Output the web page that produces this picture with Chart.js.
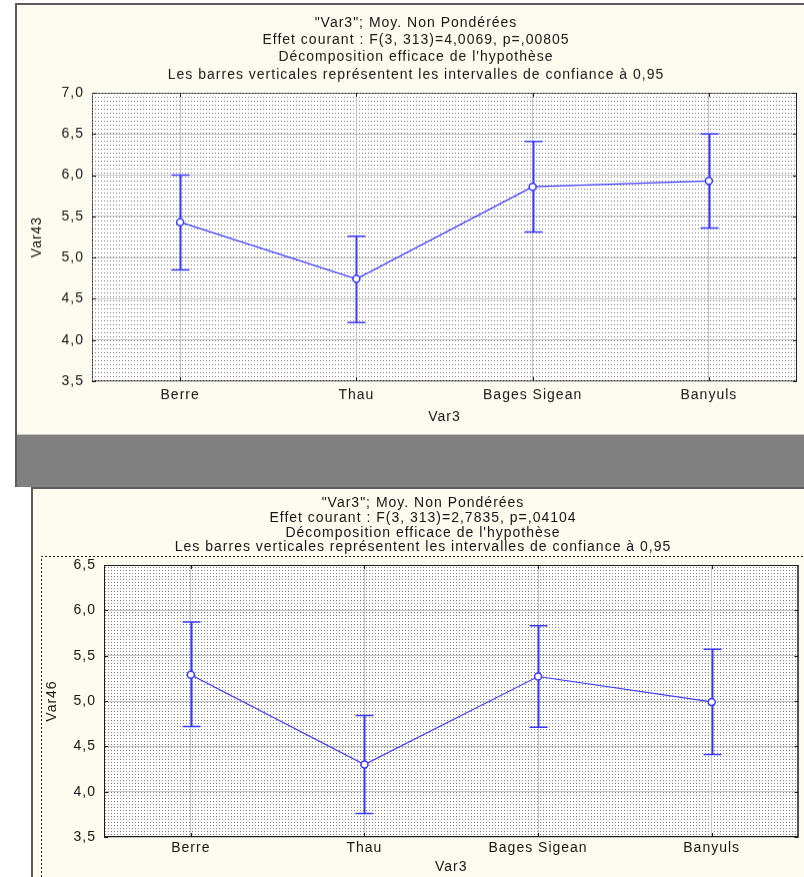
<!DOCTYPE html>
<html lang="fr">
<head>
<meta charset="UTF-8">
<title>Var43 / Var46 par Var3</title>
<script src="https://cdn.jsdelivr.net/npm/chart.js"></script>
<style>
  body { margin: 0; background: #fff; width: 804px; height: 877px; overflow: hidden; position: relative; }
  .win1 { position: absolute; left: 15px; top: 3px; width: 789px; height: 484px; background: #808080;
          border-left: 2px solid #5c5c5c; border-top: 2px solid #5c5c5c; box-sizing: border-box; }
  .win2 { position: absolute; left: 31px; top: 487px; width: 773px; height: 390px; background: #fdfaf0;
          border-left: 2px solid #5c5c5c; border-top: 2px solid #5c5c5c; box-sizing: border-box; }
  canvas { position: absolute; background: #fdfaf0; }
  #chartTop { left: 17px; top: 5px; border-bottom: 1px solid #c8c8c8; }
  #chartBottom { left: 33px; top: 489px; }
</style>
</head>
<body>

<div class="win1"></div>
<div class="win2"></div>
<canvas id="chartTop" width="787" height="430"></canvas>
<canvas id="chartBottom" width="771" height="388"></canvas>

<script>
const categories = ["Berre", "Thau", "Bages Sigean", "Banyuls"];

// Var43 : moyennes et intervalles de confiance à 0,95
const var43Mean  = [5.43, 4.74, 5.86, 5.93];
const var43Upper = [6.00, 5.26, 6.41, 6.50];
const var43Lower = [4.85, 4.21, 5.31, 5.36];

// Var46
const var46Mean  = [5.29, 4.30, 5.27, 4.99];
const var46Upper = [5.87, 4.84, 5.83, 5.57];
const var46Lower = [4.72, 3.76, 4.71, 4.41];

const var43Range = [3.5, 7.0];
const var46Range = [3.5, 6.5];
const tickStep = 0.5;

const titleTop = [
    '"Var3"; Moy. Non Pondérées',
    'Effet courant : F(3, 313)=4,0069, p=,00805',
    "Décomposition efficace de l'hypothèse",
    'Les barres verticales représentent les intervalles de confiance à 0,95'
];
const titleBottom = [
    '"Var3"; Moy. Non Pondérées',
    'Effet courant : F(3, 313)=2,7835, p=,04104',
    "Décomposition efficace de l'hypothèse",
    'Les barres verticales représentent les intervalles de confiance à 0,95'
];

const FONT = "'Liberation Sans', Arial, sans-serif";
const FONT_SIZE = 14;
const SPACING = "1px";
const INK = "#161616";
const BLUE = "#3a3aff";
Chart.defaults.font.family = FONT;
Chart.defaults.font.size = FONT_SIZE;
Chart.defaults.color = INK;

function dotPattern(w, h) {
    const c = document.createElement("canvas");
    c.width = w; c.height = h;
    const g = c.getContext("2d");
    g.fillStyle = "#ffffff";
    g.fillRect(0, 0, w, h);
    g.fillStyle = "#808080";
    g.fillRect(0, 0, 1, 1);
    return g.createPattern(c, "repeat");
}

// plot background, frame, ticks, error bars, titles
const statPlugin = {
    id: "statPlot",
    beforeUpdate(chart) { chart.ctx.letterSpacing = SPACING; },
    beforeDraw(chart, args, opts) {
        const ctx = chart.ctx;
        const a = chart.chartArea;
        ctx.letterSpacing = SPACING;
        ctx.save();
        ctx.fillStyle = dotPattern(opts.dotW, opts.dotH);
        ctx.fillRect(a.left, a.top, a.right - a.left, a.bottom - a.top);
        if (opts.outerBox) {
            ctx.strokeStyle = "#222";
            ctx.setLineDash([2, 2]);
            ctx.lineWidth = 1;
            ctx.beginPath();
            ctx.moveTo(opts.outerBox[0] + 0.5, chart.height);
            ctx.lineTo(opts.outerBox[0] + 0.5, opts.outerBox[1] + 0.5);
            ctx.lineTo(chart.width, opts.outerBox[1] + 0.5);
            ctx.stroke();
        }
        ctx.restore();
    },
    beforeDatasetsDraw(chart, args, opts) {
        const ctx = chart.ctx;
        const a = chart.chartArea;
        const x = chart.scales.x, y = chart.scales.y;
        ctx.save();
        // frame
        ctx.strokeStyle = "#1e1e1e";
        ctx.lineWidth = 1;
        ctx.setLineDash(opts.frameDash);
        ctx.strokeRect(a.left + 0.5, a.top + 0.5, a.right - a.left - 1, a.bottom - a.top - 1);
        ctx.setLineDash([]);
        ctx.beginPath();
        ctx.moveTo(a.right - 0.5, a.top);
        ctx.lineTo(a.right - 0.5, a.bottom);
        ctx.stroke();
        // inward ticks
        ctx.beginPath();
        y.ticks.forEach(t => {
            const py = Math.round(y.getPixelForValue(t.value)) + 0.5;
            ctx.moveTo(a.left, py); ctx.lineTo(a.left + 4, py);
            ctx.moveTo(a.right, py); ctx.lineTo(a.right - 4, py);
        });
        categories.forEach((c, i) => {
            const px = Math.round(x.getPixelForValue(i)) + 0.5;
            ctx.moveTo(px, a.top); ctx.lineTo(px, a.top + 4);
            ctx.moveTo(px, a.bottom); ctx.lineTo(px, a.bottom - 4);
        });
        ctx.stroke();
        // error bars
        ctx.strokeStyle = BLUE;
        opts.upper.forEach((u, i) => {
            const px = Math.round(x.getPixelForValue(i)) + 0.5;
            const pu = y.getPixelForValue(u);
            const pl = y.getPixelForValue(opts.lower[i]);
            ctx.lineWidth = 2;
            ctx.beginPath();
            ctx.moveTo(px, pu); ctx.lineTo(px, pl);
            ctx.stroke();
            ctx.lineWidth = 1.5;
            ctx.beginPath();
            ctx.moveTo(px - 9, pu); ctx.lineTo(px + 9, pu);
            ctx.moveTo(px - 9, pl); ctx.lineTo(px + 9, pl);
            ctx.stroke();
        });
        ctx.restore();
    },
    afterDraw(chart, args, opts) {
        const ctx = chart.ctx;
        ctx.save();
        ctx.fillStyle = INK;
        ctx.font = FONT_SIZE + "px " + FONT;
        ctx.letterSpacing = SPACING;
        ctx.textAlign = "center";
        ctx.textBaseline = "middle";
        opts.title.forEach((line, i) => {
            ctx.fillText(line, opts.titleX, opts.titleY + i * opts.titleGap);
        });
        ctx.restore();
    }
};

function makeChart(id, mean, upper, lower, range, yTitle, cfg) {
    return new Chart(document.getElementById(id), {
        type: "line",
        data: {
            labels: categories,
            datasets: [{
                data: mean,
                borderColor: BLUE,
                borderWidth: 1.2,
                pointRadius: 3.5,
                pointBorderWidth: 1.5,
                pointBackgroundColor: "#ffffff",
                pointBorderColor: BLUE,
                tension: 0
            }]
        },
        options: {
            responsive: false,
            animation: false,
            events: [],
            layout: { padding: { left: 0, top: cfg.top, right: cfg.right, bottom: 0 } },
            plugins: {
                legend: { display: false },
                tooltip: { enabled: false },
                statPlot: {
                    upper: upper, lower: lower, title: cfg.title,
                    titleX: cfg.titleX, titleY: cfg.titleY, titleGap: cfg.titleGap,
                    dotW: cfg.dotW, dotH: cfg.dotH, frameDash: cfg.frameDash,
                    outerBox: cfg.outerBox
                }
            },
            scales: {
                x: {
                    type: "category",
                    offset: true,
                    grid: { offset: false, color: "#c4c4c4", lineWidth: 1, drawTicks: false },
                    border: { display: false },
                    ticks: { padding: cfg.xPad, color: INK },
                    title: { display: true, text: "Var3", color: INK, padding: { top: 0, bottom: cfg.xTitlePad } },
                    afterFit(s) { s.height = cfg.xHeight; s.paddingLeft = 0; s.paddingRight = 0; }
                },
                y: {
                    min: range[0],
                    max: range[1],
                    grid: { color: "#c4c4c4", lineWidth: 1, drawTicks: false },
                    border: { display: false },
                    ticks: {
                        stepSize: tickStep,
                        padding: cfg.yPad,
                        color: INK,
                        callback: v => v.toFixed(1).replace(".", ",")
                    },
                    title: { display: true, text: yTitle, color: INK, padding: { top: cfg.yTitlePad, bottom: 0 } },
                    afterFit(s) { s.width = cfg.yWidth; s.paddingTop = 0; s.paddingBottom = 0; }
                }
            }
        },
        plugins: [statPlugin]
    });
}

makeChart("chartTop", var43Mean, var43Upper, var43Lower, var43Range, "Var43", {
    top: 88, right: 7, yWidth: 75, xHeight: 53, yPad: 8, xPad: 6,
    xTitlePad: 8, yTitlePad: 12,
    title: titleTop, titleX: 399, titleY: 18, titleGap: 17.3,
    dotW: 3, dotH: 4, frameDash: [2, 1], outerBox: null
});

makeChart("chartBottom", var46Mean, var46Upper, var46Lower, var46Range, "Var46", {
    top: 76, right: 5, yWidth: 71, xHeight: 40, yPad: 8, xPad: 3,
    xTitlePad: 1, yTitlePad: 11,
    title: titleBottom, titleX: 390, titleY: 14.5, titleGap: 14.7,
    dotW: 3, dotH: 3, frameDash: [], outerBox: [8, 67]
});
</script>

</body>
</html>
